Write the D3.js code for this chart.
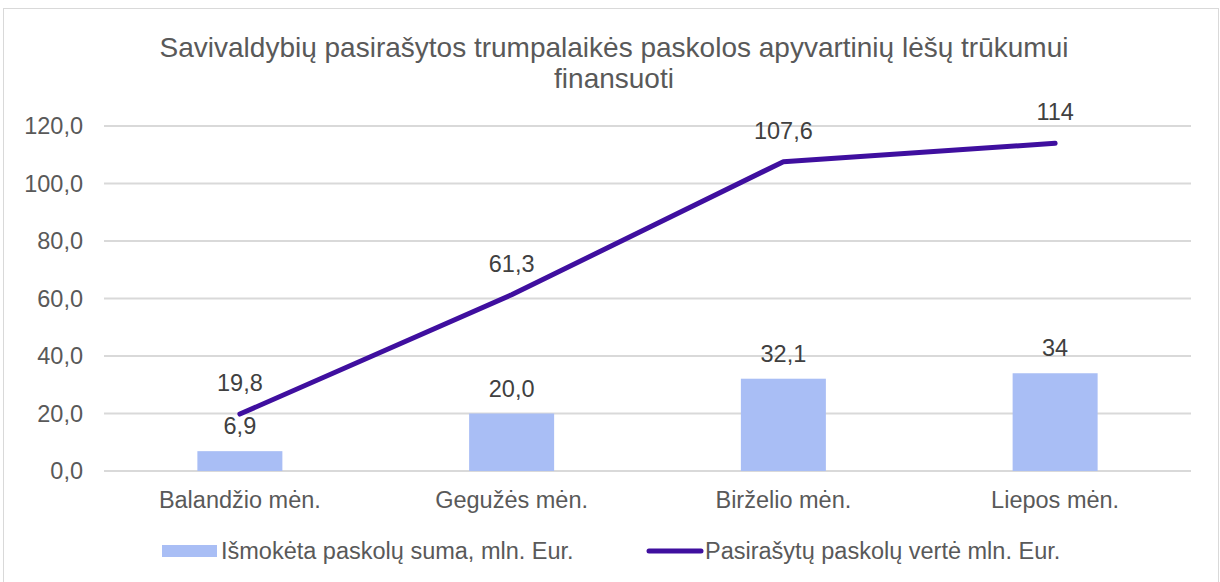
<!DOCTYPE html>
<html>
<head>
<meta charset="utf-8">
<script src="https://cdn.jsdelivr.net/npm/d3@7"></script>
<style>
body { margin: 0; background: #fff; }
text { font-family: "Liberation Sans", Arial, sans-serif; }
</style>
</head>
<body>
<script>
var categories = ["Balandžio mėn.", "Gegužės mėn.", "Birželio mėn.", "Liepos mėn."];
var paid = [6.9, 20.0, 32.1, 34];
var signed = [19.8, 61.3, 107.6, 114];
var paidLabels = ["6,9", "20,0", "32,1", "34"];
var signedLabels = ["19,8", "61,3", "107,6", "114"];
var yTicks = [0, 20, 40, 60, 80, 100, 120];
var seriesNames = ["Išmokėta paskolų suma, mln. Eur.", "Pasirašytų paskolų vertė mln. Eur."];

var w = 1220, h = 582;
var plotLeft = 104, plotRight = 1191, plotTop = 126, plotBottom = 471;

var svg = d3.select("body").append("svg")
	.attr("width", w)
	.attr("height", h);

// outer frame
svg.append("rect")
	.attr("x", 3.5).attr("y", 8.5)
	.attr("width", 1215).attr("height", 580)
	.attr("fill", "none")
	.attr("stroke", "#d9d9d9");

// title
var title = svg.append("text")
	.attr("text-anchor", "middle")
	.attr("fill", "#595959")
	.attr("font-size", "28px");
title.append("tspan").attr("x", 614).attr("y", 57)
	.text("Savivaldybių pasirašytos trumpalaikės paskolos apyvartinių lėšų trūkumui");
title.append("tspan").attr("x", 614).attr("y", 88)
	.text("finansuoti");

var x = d3.scaleBand().domain(categories).range([plotLeft, plotRight]);
var y = d3.scaleLinear().domain([0, 120]).range([plotBottom, plotTop]);

// gridlines
svg.selectAll("line.grid")
	.data(yTicks)
	.enter()
	.append("line")
	.attr("class", "grid")
	.attr("x1", plotLeft).attr("x2", plotRight)
	.attr("y1", function(d) { return y(d); })
	.attr("y2", function(d) { return y(d); })
	.attr("stroke", "#d9d9d9")
	.attr("stroke-width", 2);

// y tick labels
svg.selectAll("text.ytick")
	.data(yTicks)
	.enter()
	.append("text")
	.attr("class", "ytick")
	.attr("x", 83)
	.attr("y", function(d) { return y(d) + 8; })
	.attr("text-anchor", "end")
	.attr("fill", "#595959")
	.attr("font-size", "23.5px")
	.text(function(d) { return d3.format(".1f")(d).replace(".", ","); });

// x labels
svg.selectAll("text.xlab")
	.data(categories)
	.enter()
	.append("text")
	.attr("class", "xlab")
	.attr("x", function(d) { return x(d) + x.bandwidth() / 2; })
	.attr("y", 508)
	.attr("text-anchor", "middle")
	.attr("fill", "#595959")
	.attr("font-size", "23.5px")
	.text(function(d) { return d; });

// bars
var barW = 85;
svg.selectAll("rect.bar")
	.data(paid)
	.enter()
	.append("rect")
	.attr("class", "bar")
	.attr("x", function(d, i) { return x(categories[i]) + x.bandwidth() / 2 - barW / 2; })
	.attr("y", function(d) { return y(d); })
	.attr("width", barW)
	.attr("height", function(d) { return plotBottom - y(d); })
	.attr("fill", "#a9bef5");

// line
var line = d3.line()
	.x(function(d, i) { return x(categories[i]) + x.bandwidth() / 2; })
	.y(function(d) { return y(d); });
svg.append("path")
	.datum(signed)
	.attr("d", line)
	.attr("fill", "none")
	.attr("stroke", "#3f0f9f")
	.attr("stroke-width", 5)
	.attr("stroke-linecap", "round")
	.attr("stroke-linejoin", "round");

// bar labels
svg.selectAll("text.blab")
	.data(paid)
	.enter()
	.append("text")
	.attr("class", "blab")
	.attr("x", function(d, i) { return x(categories[i]) + x.bandwidth() / 2; })
	.attr("y", function(d) { return y(d) - 17; })
	.attr("text-anchor", "middle")
	.attr("fill", "#404040")
	.attr("font-size", "23.5px")
	.text(function(d, i) { return paidLabels[i]; });

// line labels
svg.selectAll("text.llab")
	.data(signed)
	.enter()
	.append("text")
	.attr("class", "llab")
	.attr("x", function(d, i) { return x(categories[i]) + x.bandwidth() / 2; })
	.attr("y", function(d) { return y(d) - 23; })
	.attr("text-anchor", "middle")
	.attr("fill", "#404040")
	.attr("font-size", "23.5px")
	.text(function(d, i) { return signedLabels[i]; });

// legend
svg.append("rect")
	.attr("x", 162).attr("y", 545)
	.attr("width", 55).attr("height", 12)
	.attr("fill", "#a9bef5");
svg.append("text")
	.attr("x", 221).attr("y", 559)
	.attr("fill", "#595959")
	.attr("font-size", "23.5px")
	.text(seriesNames[0]);
svg.append("line")
	.attr("x1", 649).attr("x2", 701)
	.attr("y1", 551).attr("y2", 551)
	.attr("stroke", "#3f0f9f")
	.attr("stroke-width", 5)
	.attr("stroke-linecap", "round");
svg.append("text")
	.attr("x", 705).attr("y", 559)
	.attr("fill", "#595959")
	.attr("font-size", "23.5px")
	.text(seriesNames[1]);
</script>
</body>
</html>
